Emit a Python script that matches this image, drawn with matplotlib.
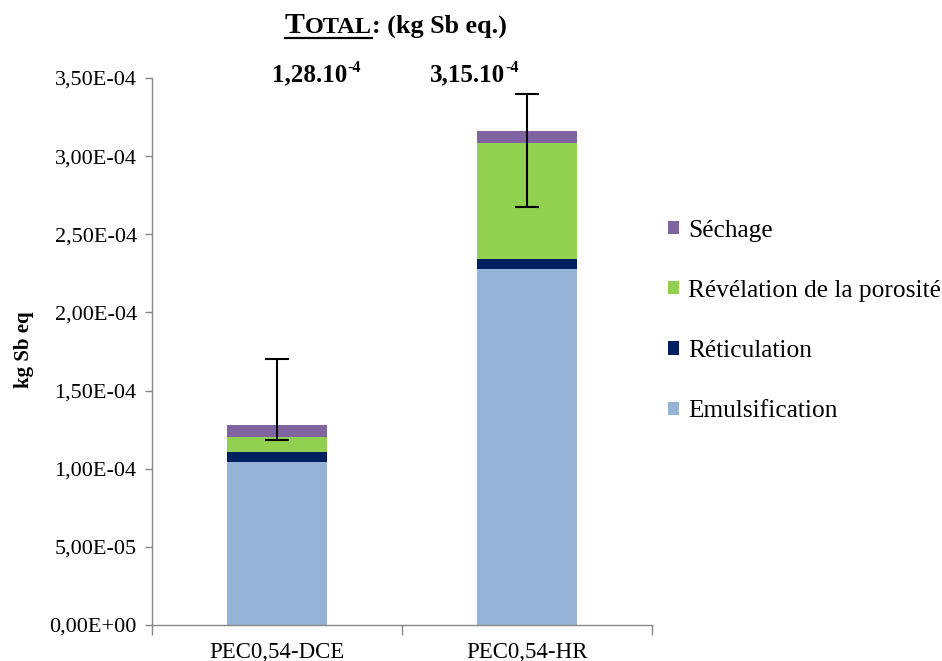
import numpy as np
import matplotlib
matplotlib.use('Agg')
import matplotlib.pyplot as plt
from matplotlib.patches import Patch
from matplotlib.transforms import IdentityTransform
from matplotlib.lines import Line2D
from matplotlib.ticker import FuncFormatter, MultipleLocator, FixedLocator

plt.rcParams['font.family'] = ['Liberation Serif', 'DejaVu Serif']

# ---- data ----
categories = ['PEC0,54-DCE', 'PEC0,54-HR']
emulsification = [1.043e-4, 2.278e-4]
reticulation = [0.064e-4, 0.064e-4]
revelation = [0.094e-4, 0.741e-4]
sechage = [0.079e-4, 0.080e-4]
err_low = [0.094e-4, 0.486e-4]
err_high = [0.420e-4, 0.235e-4]
total_labels = ['1,28.10', '3,15.10']
total_exp = '-4'
series_names = ['Emulsification', 'Réticulation', 'Révélation de la porosité', 'Séchage']
series_values = [emulsification, reticulation, revelation, sechage]
series_colors = ['#95B3D7', '#002060', '#92D050', '#8064A2']

W, H = 942, 661
fig = plt.figure(figsize=(W / 100, H / 100), dpi=100)
ax = fig.add_axes([152 / W, 36 / H, 500 / W, 547 / H])

x = np.arange(len(categories))
bottom = np.zeros(len(categories))
handles = []
for vals, col, name in zip(series_values, series_colors, series_names):
    ax.bar(x, vals, 0.4, bottom=bottom, color=col, linewidth=0, zorder=2)
    bottom = bottom + np.array(vals)
    handles.append(Patch(facecolor=col, edgecolor='none', label=name))
totals = bottom

ax.errorbar(x, totals, yerr=[err_low, err_high], fmt='none', ecolor='black',
            elinewidth=1.5, capsize=8.5, capthick=1.5, zorder=3)

ax.set_xlim(-0.5, 1.5)
ax.set_ylim(0, 3.5e-4)
ax.yaxis.set_major_locator(MultipleLocator(5e-5))
ax.yaxis.set_major_formatter(FuncFormatter(lambda v, p: f"{v:.2E}".replace('.', ',')))
ax.set_xticks(x)
ax.set_xticklabels(categories)
ax.xaxis.set_minor_locator(FixedLocator([-0.5, 0.5, 1.5]))
ax.tick_params(axis='x', which='major', length=0, labelsize=16.5, pad=12)
ax.tick_params(axis='x', which='minor', length=7, color='#868686', width=1)
ax.tick_params(axis='y', which='major', length=5, color='#868686', width=1,
               labelsize=16, pad=6)
for s in ['top', 'right']:
    ax.spines[s].set_visible(False)
for s in ['left', 'bottom']:
    ax.spines[s].set_color('#868686')
    ax.spines[s].set_linewidth(1)

ax.set_ylabel('kg Sb eq', fontweight='bold', fontsize=15)
ax.yaxis.set_label_coords((34 - 152) / 500, (625 - 350) / 547)

fig.legend(handles[::-1], [h.get_label() for h in handles[::-1]],
           loc='center left', bbox_to_anchor=(668 / W, (H - 321) / H),
           frameon=False, fontsize=18.3, handlelength=0.42, handleheight=0.42,
           handletextpad=0.38, labelspacing=1.5, borderpad=0, borderaxespad=0)

renderer = fig.canvas.get_renderer()


def seq_text(pieces, x0):
    """pieces: list of (text, size, baseline_y_display); returns list of (x_start, x_end)."""
    xs = []
    cur = x0
    for txt, size, yb in pieces:
        t = fig.text(cur, yb, txt, transform=IdentityTransform(), fontsize=size,
                     fontweight='bold', ha='left', va='baseline')
        bb = t.get_window_extent(renderer)
        xs.append((cur, cur + bb.width))
        cur += bb.width
    return xs


# title
tb = H - 33
spans = seq_text([('T', 21.5, tb), ('OTAL', 17.5, tb), (': (kg Sb eq.)', 18.8, tb)], 285)
fig.add_artist(Line2D([spans[0][0], spans[1][1]], [tb - 5, tb - 5],
                      transform=IdentityTransform(), color='black', linewidth=1.6))

# total labels
label_x = [272, 430]
for lab, lx in zip(total_labels, label_x):
    seq_text([(lab, 18, H - 81), (total_exp, 11.5, H - 72)], lx)

fig.savefig('out.png', dpi=100)
